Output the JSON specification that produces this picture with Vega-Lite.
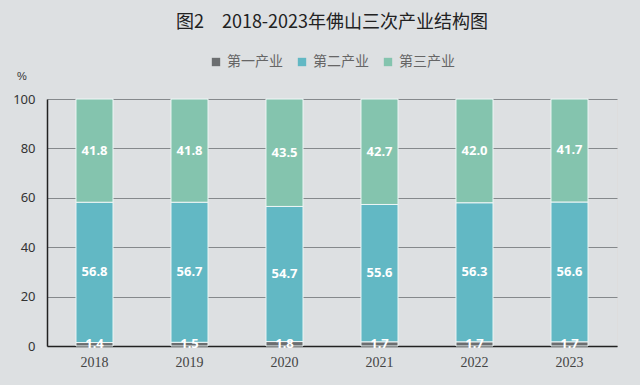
{
  "$schema": "https://vega.github.io/schema/vega-lite/v6.json",
  "autosize": "none",
  "width": 570,
  "height": 247,
  "padding": {"left": 47, "top": 99, "right": 23, "bottom": 39},
  "background": "#dde0e2",
  "title": {"text": "图2　2018-2023年佛山三次产业结构图", "font": "Noto Sans CJK SC", "fontSize": 18, "fontWeight": "normal", "color": "#222222", "anchor": "middle", "offset": 23, "frame": "group"},
  "data": {"values": [
    {"year": "2018", "type": "第一产业", "order": 1, "value": 1.4},
    {"year": "2018", "type": "第二产业", "order": 2, "value": 56.8},
    {"year": "2018", "type": "第三产业", "order": 3, "value": 41.8},
    {"year": "2019", "type": "第一产业", "order": 1, "value": 1.5},
    {"year": "2019", "type": "第二产业", "order": 2, "value": 56.7},
    {"year": "2019", "type": "第三产业", "order": 3, "value": 41.8},
    {"year": "2020", "type": "第一产业", "order": 1, "value": 1.8},
    {"year": "2020", "type": "第二产业", "order": 2, "value": 54.7},
    {"year": "2020", "type": "第三产业", "order": 3, "value": 43.5},
    {"year": "2021", "type": "第一产业", "order": 1, "value": 1.7},
    {"year": "2021", "type": "第二产业", "order": 2, "value": 55.6},
    {"year": "2021", "type": "第三产业", "order": 3, "value": 42.7},
    {"year": "2022", "type": "第一产业", "order": 1, "value": 1.7},
    {"year": "2022", "type": "第二产业", "order": 2, "value": 56.3},
    {"year": "2022", "type": "第三产业", "order": 3, "value": 42.0},
    {"year": "2023", "type": "第一产业", "order": 1, "value": 1.7},
    {"year": "2023", "type": "第二产业", "order": 2, "value": 56.6},
    {"year": "2023", "type": "第三产业", "order": 3, "value": 41.7}
  ]},
  "layer": [
    {
      "transform": [
        {"stack": "value", "groupby": ["year"], "sort": [{"field": "order", "order": "ascending"}], "as": ["v0", "v1"]}
      ],
      "mark": {"type": "bar", "stroke": "#eef6f6", "strokeWidth": 1},
      "encoding": {
        "x": {"field": "year", "type": "nominal", "title": null,
          "scale": {"paddingInner": 0.61, "paddingOuter": 0.305},
          "axis": {"labelAngle": 0, "labelFont": "Liberation Serif", "labelFontSize": 14, "labelColor": "#444444", "domainColor": "#222222", "domainWidth": 1.5, "ticks": false, "labelPadding": 9}},
        "y": {"field": "v0", "type": "quantitative", "title": null,
          "scale": {"domain": [0, 100]},
          "axis": {"values": [0, 20, 40, 60, 80, 100], "labelFont": "Noto Sans", "labelFontSize": 13, "labelColor": "#333333", "domainColor": "#222222", "domainWidth": 1.5, "ticks": false, "labelPadding": 12, "gridColor": "#85898c", "gridWidth": 1}},
        "y2": {"field": "v1"},
        "color": {"field": "type", "type": "nominal",
          "scale": {"domain": ["第一产业", "第二产业", "第三产业"], "range": ["#6b6e70", "#62b8c4", "#84c4ae"]},
          "legend": {"title": null, "orient": "none", "direction": "horizontal", "legendX": 162, "legendY": -44, "symbolType": "square", "symbolSize": 70, "symbolStrokeWidth": 0, "labelFont": "Noto Sans CJK SC", "labelFontSize": 14, "labelColor": "#666666", "columnPadding": 12}}
      }
    },
    {
      "transform": [
        {"stack": "value", "groupby": ["year"], "sort": [{"field": "order", "order": "ascending"}], "as": ["v0", "v1"]},
        {"calculate": "(datum.v0 + datum.v1) / 2", "as": "mid"}
      ],
      "mark": {"type": "text", "color": "white", "fontWeight": "bold", "font": "Noto Sans", "fontSize": 13, "baseline": "middle"},
      "encoding": {
        "x": {"field": "year", "type": "nominal"},
        "y": {"field": "mid", "type": "quantitative"},
        "text": {"field": "value", "type": "quantitative", "format": ".1f"}
      }
    },
    {
      "data": {"values": [{"label": "%"}]},
      "mark": {"type": "text", "x": -25, "y": -22, "fontSize": 11, "color": "#333333"},
      "encoding": {"text": {"field": "label"}}
    }
  ]
}
